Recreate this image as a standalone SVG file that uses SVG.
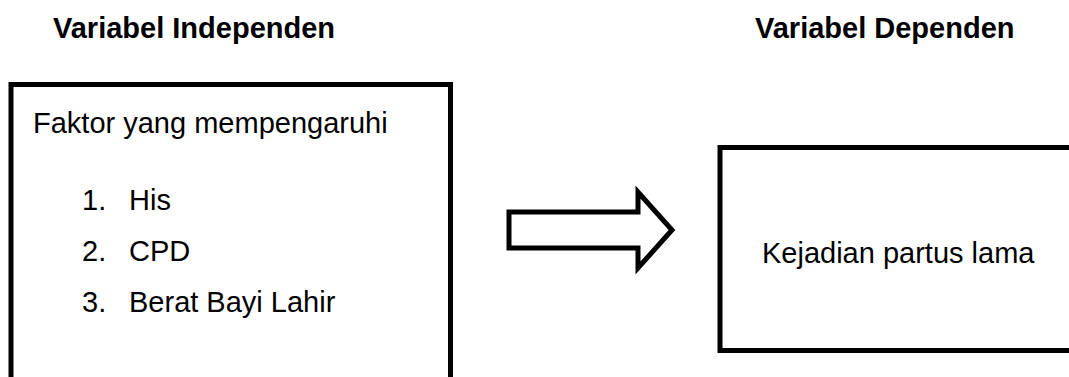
<svg xmlns="http://www.w3.org/2000/svg" width="1069" height="377" viewBox="0 0 1069 377">
<style>
.box{fill:#fff;stroke:#000;stroke-width:5}
.t{font-family:"Liberation Sans",Arial,sans-serif;font-size:29px;fill:#000}
.h{font-family:"Liberation Sans",Arial,sans-serif;font-size:29px;font-weight:bold;fill:#000}
</style>
<rect width="1069" height="377" fill="#fff"/>
<g id="headers">
<text class="h" x="53" y="38">Variabel Independen</text>
<text class="h" x="755" y="38">Variabel Dependen</text>
</g>
<g id="node-independen">
<rect class="box" x="11" y="84.5" width="439.5" height="320"/>
<text class="t" x="33" y="133">Faktor yang mempengaruhi</text>
<text class="t" x="82" y="210">1.</text><text class="t" x="129" y="210">His</text>
<text class="t" x="82" y="261">2.</text><text class="t" x="129" y="261">CPD</text>
<text class="t" x="82" y="312">3.</text><text class="t" x="129" y="312">Berat Bayi Lahir</text>
</g>
<g id="node-dependen">
<rect class="box" x="720" y="147.5" width="380" height="203"/>
<text class="t" x="762" y="263">Kejadian partus lama</text>
</g>
<g id="connectors">
<polygon class="box" points="509,212 638,212 638,192 672,230 638,268 638,248 509,248"/>
</g>
</svg>
